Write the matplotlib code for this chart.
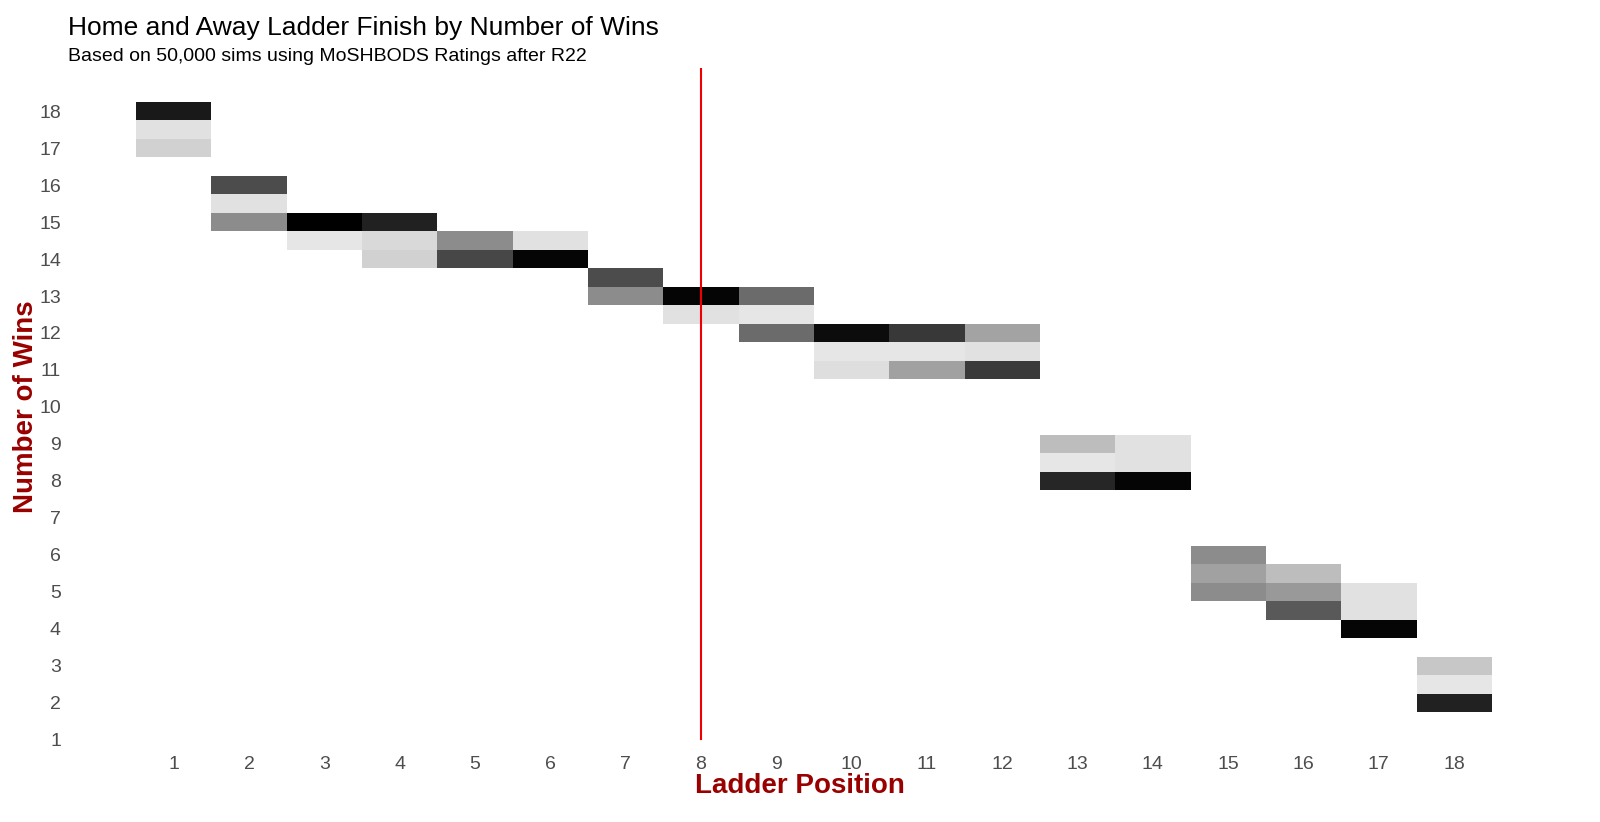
import matplotlib
matplotlib.use("Agg")
import matplotlib.pyplot as plt
from matplotlib.colors import LinearSegmentedColormap, Normalize

plt.rcParams["font.family"] = "Liberation Sans"

# ladder position, wins (half steps for draws), share (darkness 0..1)
positions = [1, 1, 1,
             2, 2, 2,
             3, 3,
             4, 4, 4,
             5, 5,
             6, 6,
             7, 7,
             8, 8,
             9, 9, 9,
             10, 10, 10,
             11, 11, 11,
             12, 12, 12,
             13, 13, 13,
             14, 14, 14,
             15, 15, 15,
             16, 16, 16,
             17, 17, 17,
             18, 18, 18]
wins = [18, 17.5, 17,
        16, 15.5, 15,
        15, 14.5,
        15, 14.5, 14,
        14.5, 14,
        14.5, 14,
        13.5, 13,
        13, 12.5,
        13, 12.5, 12,
        12, 11.5, 11,
        12, 11.5, 11,
        12, 11.5, 11,
        9, 8.5, 8,
        9, 8.5, 8,
        6, 5.5, 5,
        5.5, 5, 4.5,
        5, 4.5, 4,
        3, 2.5, 2]
share = [0.90, 0.12, 0.18,
         0.70, 0.12, 0.45,
         1.00, 0.10,
         0.87, 0.15, 0.18,
         0.45, 0.72,
         0.12, 0.98,
         0.70, 0.45,
         0.98, 0.12,
         0.58, 0.10, 0.58,
         0.95, 0.10, 0.13,
         0.78, 0.10, 0.37,
         0.36, 0.12, 0.77,
         0.26, 0.10, 0.85,
         0.12, 0.12, 0.98,
         0.45, 0.37, 0.45,
         0.26, 0.40, 0.65,
         0.12, 0.12, 0.98,
         0.22, 0.10, 0.87]

cmap = LinearSegmentedColormap.from_list("wb", ["#ffffff", "#000000"])
norm = Normalize(0, 1)

fig = plt.figure(figsize=(16, 8.22), dpi=100)
ax = fig.add_axes([0.045, 0.094, 0.91, 0.823])

ax.bar(positions, [0.5] * len(wins), width=1.0, bottom=[w - 0.25 for w in wins],
       color=[cmap(norm(s)) for s in share], linewidth=0)
ax.axvline(8, color="#ee0000", linewidth=1.5, ymin=0.008, ymax=1)
ax.set_xlim(-0.35, 18.98)
ax.set_ylim(0.865, 19.16)
ax.set_xticks(range(1, 19))
ax.set_yticks(range(1, 19))
ax.tick_params(length=0, labelsize=14, colors="#4d4d4d", pad=8)
for s in ax.spines.values():
    s.set_visible(False)

ax.set_xlabel("Ladder Position", fontsize=20, fontweight="bold", color="#990000", labelpad=0)
ax.set_ylabel("Number of Wins", fontsize=20, fontweight="bold", color="#990000", labelpad=0)

fig.text(0.0425, 0.958, "Home and Away Ladder Finish by Number of Wins", fontsize=19, color="black")
fig.text(0.0425, 0.926, "Based on 50,000 sims using MoSHBODS Ratings after R22", fontsize=14, color="black")

fig.savefig("out.png", dpi=100, facecolor="white")
